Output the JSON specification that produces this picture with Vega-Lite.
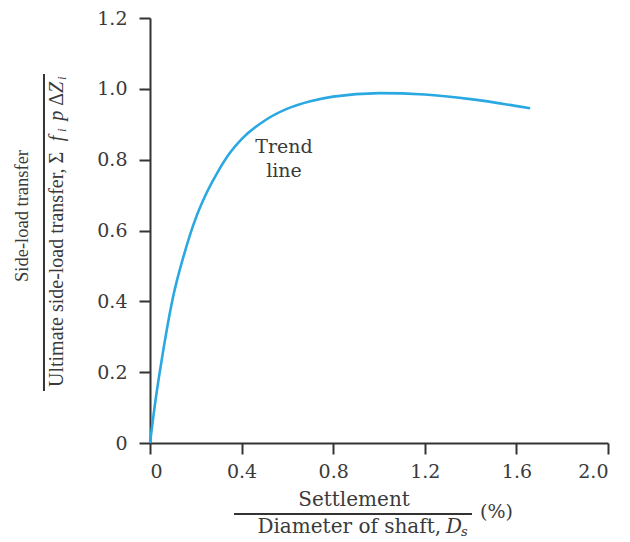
{
  "$schema": "https://vega.github.io/schema/vega-lite/v6.json",
  "autosize": "none",
  "width": 458,
  "height": 425,
  "padding": {"left": 150, "top": 18, "right": 22, "bottom": 99},
  "background": "white",
  "config": {
    "view": {"stroke": null},
    "axis": {
      "grid": false,
      "domainColor": "#333333",
      "domainWidth": 2,
      "tickColor": "#333333",
      "tickWidth": 2,
      "tickSize": 11,
      "labelFont": "DejaVu Serif",
      "labelFontSize": 19,
      "labelColor": "#3a3a3a",
      "title": null
    }
  },
  "data": {
    "values": [
      {"s": 0, "r": 0},
      {"s": 0.025, "r": 0.125},
      {"s": 0.05, "r": 0.23},
      {"s": 0.1, "r": 0.41},
      {"s": 0.15, "r": 0.535},
      {"s": 0.2, "r": 0.635},
      {"s": 0.25, "r": 0.71},
      {"s": 0.3, "r": 0.77},
      {"s": 0.35, "r": 0.82},
      {"s": 0.4, "r": 0.858},
      {"s": 0.5, "r": 0.91},
      {"s": 0.6, "r": 0.944},
      {"s": 0.7, "r": 0.965},
      {"s": 0.8, "r": 0.978},
      {"s": 1.0, "r": 0.988},
      {"s": 1.2, "r": 0.984},
      {"s": 1.4, "r": 0.971},
      {"s": 1.66, "r": 0.945}
    ]
  },
  "layer": [
    {
      "mark": {"type": "line", "color": "#2aa8e2", "strokeWidth": 2.6, "interpolate": "monotone"},
      "encoding": {
        "x": {
          "field": "s", "type": "quantitative",
          "scale": {"domain": [0, 2], "nice": false, "zero": false},
          "axis": {"values": [0, 0.4, 0.8, 1.2, 1.6, 2.0], "labelPadding": 8, "labelExpr": "datum.value == 0 ? '0' : format(datum.value, '.1f')"}
        },
        "y": {
          "field": "r", "type": "quantitative",
          "scale": {"domain": [0, 1.2], "nice": false, "zero": false},
          "axis": {"values": [0, 0.2, 0.4, 0.6, 0.8, 1.0, 1.2], "labelPadding": 12, "labelExpr": "datum.value == 0 ? '0' : format(datum.value, '.1f')"}
        }
      }
    },
    {
      "data": {"values": [{}]},
      "mark": {"type": "rule", "color": "#333333", "strokeWidth": 2},
      "encoding": {
        "x": {"datum": -0.463},
        "y": {"datum": 0.147},
        "y2": {"datum": 1.042}
      }
    },
    {
      "data": {"values": [{}]},
      "mark": {"type": "rule", "color": "#333333", "strokeWidth": 2},
      "encoding": {
        "x": {"datum": 0.367},
        "x2": {"datum": 1.406},
        "y": {"datum": -0.2005}
      }
    },
    {
      "data": {"values": [{}]},
      "mark": {"type": "text", "text": "Side-load transfer", "font": "Liberation Serif", "fontSize": 18.5, "angle": 270, "align": "center", "baseline": "middle", "color": "#3a3a3a"},
      "encoding": {"x": {"datum": -0.559}, "y": {"datum": 0.641}}
    },
    {
      "data": {"values": [{}]},
      "mark": {"type": "text", "text": "Ultimate side-load transfer, Σ", "font": "Liberation Serif", "fontSize": 20, "angle": 270, "align": "left", "baseline": "middle", "color": "#3a3a3a"},
      "encoding": {"x": {"datum": -0.406}, "y": {"datum": 0.158}}
    },
    {
      "data": {"values": [{}]},
      "mark": {"type": "text", "text": "f", "font": "Liberation Serif", "fontStyle": "italic", "fontSize": 20, "angle": 270, "align": "left", "baseline": "middle", "color": "#3a3a3a"},
      "encoding": {"x": {"datum": -0.406}, "y": {"datum": 0.852}}
    },
    {
      "data": {"values": [{}]},
      "mark": {"type": "text", "text": "i", "font": "Liberation Serif", "fontStyle": "italic", "fontSize": 13, "angle": 270, "align": "left", "baseline": "middle", "color": "#3a3a3a"},
      "encoding": {"x": {"datum": -0.384}, "y": {"datum": 0.878}}
    },
    {
      "data": {"values": [{}]},
      "mark": {"type": "text", "text": "p", "font": "Liberation Serif", "fontStyle": "italic", "fontSize": 20, "angle": 270, "align": "left", "baseline": "middle", "color": "#3a3a3a"},
      "encoding": {"x": {"datum": -0.406}, "y": {"datum": 0.91}}
    },
    {
      "data": {"values": [{}]},
      "mark": {"type": "text", "text": "Δ", "font": "Liberation Serif", "fontSize": 20, "angle": 270, "align": "left", "baseline": "middle", "color": "#3a3a3a"},
      "encoding": {"x": {"datum": -0.406}, "y": {"datum": 0.952}}
    },
    {
      "data": {"values": [{}]},
      "mark": {"type": "text", "text": "Z", "font": "Liberation Serif", "fontStyle": "italic", "fontSize": 20, "angle": 270, "align": "left", "baseline": "middle", "color": "#3a3a3a"},
      "encoding": {"x": {"datum": -0.406}, "y": {"datum": 0.988}}
    },
    {
      "data": {"values": [{}]},
      "mark": {"type": "text", "text": "i", "font": "Liberation Serif", "fontStyle": "italic", "fontSize": 13, "angle": 270, "align": "left", "baseline": "middle", "color": "#3a3a3a"},
      "encoding": {"x": {"datum": -0.384}, "y": {"datum": 1.025}}
    },
    {
      "data": {"values": [{}]},
      "mark": {"type": "text", "text": "Settlement", "font": "DejaVu Serif", "fontSize": 20, "align": "center", "baseline": "middle", "color": "#3a3a3a"},
      "encoding": {"x": {"datum": 0.891}, "y": {"datum": -0.161}}
    },
    {
      "data": {"values": [{}]},
      "mark": {"type": "text", "text": "Diameter of shaft,", "font": "DejaVu Serif", "fontSize": 20, "align": "right", "baseline": "middle", "color": "#3a3a3a"},
      "encoding": {"x": {"datum": 1.271}, "y": {"datum": -0.237}}
    },
    {
      "data": {"values": [{}]},
      "mark": {"type": "text", "text": "D", "font": "DejaVu Serif", "fontStyle": "italic", "fontSize": 20, "align": "left", "baseline": "middle", "color": "#3a3a3a"},
      "encoding": {"x": {"datum": 1.293}, "y": {"datum": -0.237}}
    },
    {
      "data": {"values": [{}]},
      "mark": {"type": "text", "text": "s", "font": "DejaVu Serif", "fontStyle": "italic", "fontSize": 13, "align": "left", "baseline": "middle", "color": "#3a3a3a"},
      "encoding": {"x": {"datum": 1.358}, "y": {"datum": -0.251}}
    },
    {
      "data": {"values": [{}]},
      "mark": {"type": "text", "text": "(%)", "font": "DejaVu Serif", "fontSize": 19, "align": "left", "baseline": "middle", "color": "#3a3a3a"},
      "encoding": {"x": {"datum": 1.441}, "y": {"datum": -0.194}}
    },
    {
      "data": {"values": [{}]},
      "mark": {"type": "text", "text": ["Trend", "line"], "font": "DejaVu Serif", "fontSize": 19, "lineHeight": 24, "align": "center", "baseline": "middle", "color": "#3a3a3a"},
      "encoding": {"x": {"datum": 0.585}, "y": {"datum": 0.836}}
    }
  ]
}
